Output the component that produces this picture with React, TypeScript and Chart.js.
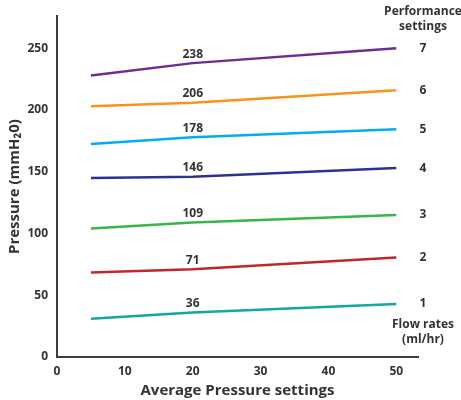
import React, { useEffect, useRef } from 'react';
import { Chart, registerables } from 'chart.js';

Chart.register(...registerables);

const xValues = [5, 20, 50];
const setting1 = [31, 36, 43];
const setting2 = [68.5, 71, 80.5];
const setting3 = [104, 109, 115];
const setting4 = [145, 146, 153];
const setting5 = [172.5, 178, 184.5];
const setting6 = [203, 206, 216];
const setting7 = [228, 238, 250];
const seriesList = [setting1, setting2, setting3, setting4, setting5, setting6, setting7];
const settingLabels = ['1', '2', '3', '4', '5', '6', '7'];
const seriesColors = ['#13a89e', '#c1272d', '#3ab54a', '#2e3192', '#00aeef', '#f7941d', '#6b2d91'];
const xTitle = 'Average Pressure settings';
const yTitle = 'Pressure (mmH\u20820)';
const topNote = ['Performance', 'settings'];
const bottomNote = ['Flow rates', '(ml/hr)'];

const FONT = "'Open Sans', 'Noto Sans', sans-serif";
const TEXT = '#333333';

const labelPlugin = {
  id: 'labelPlugin',
  afterDatasetsDraw(chart: any) {
    const ctx = chart.ctx as CanvasRenderingContext2D;
    const area = chart.chartArea;
    ctx.save();
    ctx.fillStyle = TEXT;
    ctx.textAlign = 'center';
    ctx.textBaseline = 'middle';
    const rightX = area.right + 5;
    chart.data.datasets.forEach((ds: any, i: number) => {
      const meta = chart.getDatasetMeta(i);
      const pts = meta.data;
      const mid = pts[1];
      ctx.font = `bold 12px ${FONT}`;
      ctx.fillText(String(ds.data[1].y), mid.x, mid.y - 9);
      const last = pts[pts.length - 1];
      ctx.fillText(settingLabels[i], rightX, last.y);
    });
    ctx.font = `bold 12px ${FONT}`;
    ctx.fillText(topNote[0], rightX, area.top - 5);
    ctx.fillText(topNote[1], rightX, area.top + 10);
    const firstLast = chart.getDatasetMeta(0).data[2];
    ctx.fillText(bottomNote[0], rightX, firstLast.y + 21);
    ctx.fillText(bottomNote[1], rightX, firstLast.y + 36);
    ctx.restore();
  },
};

export default function App() {
  const ref = useRef<HTMLCanvasElement>(null);
  useEffect(() => {
    document.body.style.margin = '0';
    const chart = new Chart(ref.current!, {
      type: 'line',
      data: {
        datasets: seriesList.map((s, i) => ({
          label: settingLabels[i],
          data: xValues.map((x, j) => ({ x, y: s[j] })),
          borderColor: seriesColors[i],
          borderWidth: 2.5,
          pointRadius: 0,
          tension: 0,
          fill: false,
        })),
      },
      options: {
        animation: false,
        responsive: false,
        layout: { padding: { top: 15, right: 43, left: 0, bottom: 0 } },
        plugins: { legend: { display: false }, tooltip: { enabled: false } },
        scales: {
          x: {
            type: 'linear',
            min: 0,
            max: 53.2,
            grid: { display: false, drawTicks: false },
            border: { display: true, color: '#3d3d3d', width: 2 },
            ticks: { stepSize: 10, includeBounds: false, color: TEXT, padding: 7, font: { family: FONT, size: 12, weight: 'bold' } },
            title: { display: true, text: xTitle, color: TEXT, padding: { top: 0, bottom: 0 }, font: { family: FONT, size: 15, weight: 'bold' } },
            afterFit: (s: any) => { s.height = 43; },
          },
          y: {
            min: 0,
            max: 276,
            grid: { display: false, drawTicks: false },
            border: { display: true, color: '#3d3d3d', width: 2 },
            ticks: { stepSize: 50, includeBounds: false, color: TEXT, padding: 9, font: { family: FONT, size: 12, weight: 'bold' } },
            title: { display: true, text: yTitle, color: TEXT, padding: { top: 6, bottom: 0 }, font: { family: FONT, size: 15, weight: 'bold' } },
            afterFit: (s: any) => { s.width = 57; },
          },
        },
      } as any,
      plugins: [labelPlugin],
    });
    return () => chart.destroy();
  }, []);
  return (
    <div style={{ position: 'absolute', left: 0, top: 0, width: 461, height: 400 }}>
      <canvas ref={ref} width={461} height={400} />
    </div>
  );
}
